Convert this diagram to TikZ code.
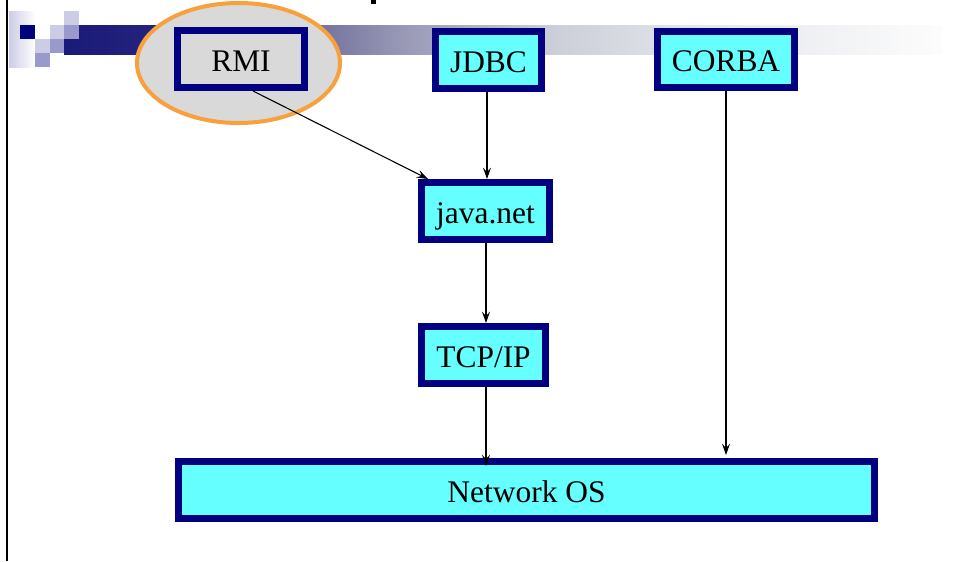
\documentclass[tikz,border=0pt]{standalone}
\usepackage{fontspec}
\setmainfont{Liberation Serif}
\usetikzlibrary{arrows.meta,calc}
\definecolor{navyb}{RGB}{0,0,128}
\definecolor{cyanf}{RGB}{102,255,255}
\definecolor{grayf}{RGB}{217,217,217}
\definecolor{orng}{RGB}{247,160,60}
\definecolor{lavl}{RGB}{204,204,230}
\definecolor{lavm}{RGB}{153,153,204}
\pgfdeclarehorizontalshading{barshade}{100bp}{%
rgb(0bp)=(0.10,0.10,0.47);
rgb(25bp)=(0.10,0.10,0.47);
rgb(30bp)=(0.14,0.14,0.49);
rgb(38bp)=(0.40,0.40,0.59);
rgb(44bp)=(0.59,0.59,0.71);
rgb(53bp)=(0.80,0.81,0.85);
rgb(61bp)=(0.89,0.90,0.92);
rgb(75bp)=(0.99,0.99,0.99);
rgb(100bp)=(0.99,0.99,0.99)}
\def\pxu{0.75pt}
\tikzset{
  box/.style={draw=navyb, line width=5.25pt, inner sep=0pt, fill=cyanf,
    font=\fontsize{23.6}{28}\selectfont, text height=20pt, text depth=2pt},
  arr/.style={draw=black, line width=0.8pt, -{Stealth[length=8.5pt,width=6pt,inset=3.2pt]}}
}
\begin{document}
\begin{tikzpicture}[x=0.75pt,y=-0.75pt]
\useasboundingbox (0,0) rectangle (955,561);
% left rule
\fill[black] (6,0) rectangle (8,561);
% gradient bar
\shade[shading=barshade] (64,25) rectangle (942,54);
% decorative squares
\shade[left color=lavl, right color=white] (9,11) rectangle (35,67);
\fill[navyb] (20,25) rectangle (35,39);
\fill[lavl] (64,11) rectangle (79,25);
\fill[lavl] (50,25) rectangle (64,39);
\fill[lavm] (64,25) rectangle (79,39);
\fill[lavl] (35,39) rectangle (50,53);
\fill[lavm] (50,39) rectangle (64,53);
\fill[lavm] (35,53) rectangle (50,67);
% clipped title fragment
\fill[black] (371,0) rectangle (376,4);
% highlight ellipse
\draw[orng, line width=3pt, fill=grayf] (238.5,63) ellipse [x radius=101.5, y radius=60];
% nodes
\node[box, fill=grayf, minimum width=127*\pxu, minimum height=57*\pxu] (rmi) at (241,59) {RMI};
\node[box, minimum width=106*\pxu, minimum height=57*\pxu] (jdbc) at (488.5,60) {JDBC};
\node[box, minimum width=137*\pxu, minimum height=56*\pxu] (corba) at (726,59.5) {CORBA};
\node[box, minimum width=128*\pxu, minimum height=57*\pxu] (jnet) at (485.5,211) {java.net};
\node[box, minimum width=124*\pxu, minimum height=57*\pxu] (tcp) at (483.5,355) {TCP/IP};
\node[box, minimum width=696*\pxu, minimum height=57*\pxu] (netos) at (526.5,490) {Network OS};
% connectors
\draw[arr] ($(rmi.south)+(12,0)$) -- ($(jnet.north west)+(10,0)$);
\draw[arr] (jdbc.south -| 487,0) -- (jnet.north -| 487,0);
\draw[arr] (jnet.south -| 486,0) -- (tcp.north -| 486,0);
\draw[arr] (tcp.south -| 486,0) -- ($(netos.north -| 486,0)+(0,8)$);
\draw[arr] (corba.south) -- ($(netos.north -| corba.south)+(0,-3)$);
\end{tikzpicture}
\end{document}
